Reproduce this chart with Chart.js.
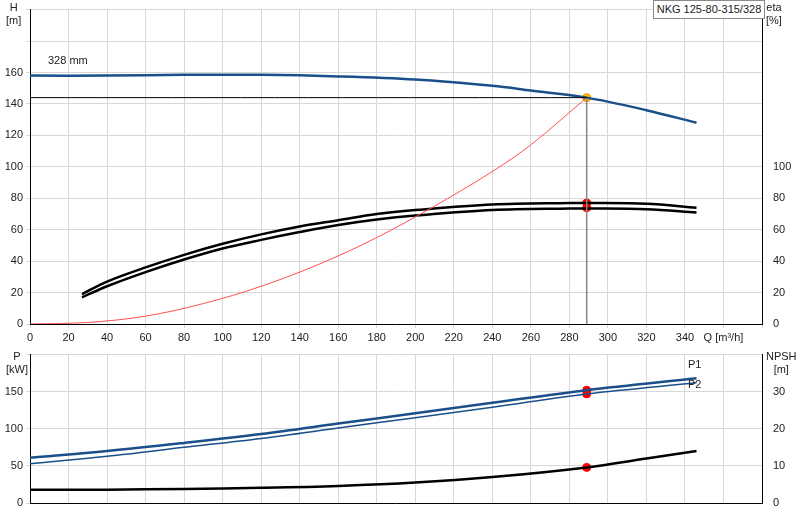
<!DOCTYPE html>
<html><head><meta charset="utf-8">
<script src="https://cdn.jsdelivr.net/npm/chart.js@4"></script>
<style>
body{margin:0;background:#fff;font-family:"Liberation Sans",Arial,sans-serif;}
#wrap{position:relative;width:800px;height:520px;}
canvas{position:absolute;left:0;}
.t{position:absolute;font-size:11px;color:#222;text-align:center;line-height:13px;}
</style></head><body>
<div id="wrap">
<canvas id="top" style="top:0" width="800" height="345"></canvas>
<canvas id="bot" style="top:345px" width="800" height="175"></canvas>
<div class="t" style="left:6px;top:1px">H<br>[m]</div>
<div class="t" style="left:766px;top:1px">eta<br>[%]</div>
<div class="t" style="left:6px;top:350px">P<br>[kW]</div>
<div class="t" style="left:766px;top:350px">NPSH<br>[m]</div>
<div class="t" style="left:48px;top:54px">328 mm</div>
<div class="t" style="left:688px;top:358px">P1</div>
<div class="t" style="left:688px;top:378px">P2</div>
<div class="t" style="left:653px;top:0px;width:110px;height:17px;line-height:17px;border:1px solid #888;background:#fff">NKG 125-80-315/328</div>
</div>
<script>
// pump curve data
const qH = [0, 40, 80, 120, 160, 200, 240, 260, 289, 320, 346];
const head = [158, 158, 158.5, 158.5, 157.5, 155.5, 151.5, 148.5, 144, 136, 128];
const qSys = [0, 30, 60, 90, 120, 150, 180, 210, 240, 260, 289];
const sysHead = [0, 1, 5, 13, 24, 38, 55, 75, 97, 114, 144];
const qEta = [27, 40, 60, 80, 100, 120, 140, 160, 180, 200, 240, 280, 289, 320, 346];
const eta1 = [19, 27, 36, 44, 51, 57, 62, 66, 70, 72.5, 76, 77, 77, 76.5, 74];
const eta2 = [17, 24, 33, 41, 48, 53.5, 58.5, 63, 66.5, 69, 72.5, 73.5, 73.5, 73, 71];
const qP = [0, 40, 80, 120, 160, 200, 240, 289, 346];
const p1 = [61, 70, 81, 93, 107, 121, 135, 152, 168];
const p2 = [53, 63, 75, 87, 101, 115, 129, 147, 162];
const qN = [0, 40, 80, 120, 160, 200, 240, 289, 320, 346];
const npsh = [3.6, 3.6, 3.8, 4.1, 4.6, 5.5, 7, 9.6, 12, 14];
const duty = { q: 289, h: 144, eta1: 77, eta2: 74, p1: 152, p2: 147, npsh: 9.6 };

const pts = (xs, ys) => xs.map((x, i) => ({ x: x, y: ys[i] }));
const grid = '#d8d8d8';
const font = { family: 'Liberation Sans', size: 11 };
const line = (data, color, w, axis) => ({ data: data, showLine: true, borderColor: color, borderWidth: w, pointRadius: 0, tension: 0.35, fill: false, yAxisID: axis || 'y' });
const dot = (data, color, axis) => ({ data: data, showLine: false, pointRadius: 4, pointBackgroundColor: color, pointBorderColor: color, yAxisID: axis || 'y' });

new Chart(document.getElementById('top'), {
  type: 'scatter',
  data: { datasets: [
    line([{ x: 0, y: duty.h }, { x: duty.q, y: duty.h }], '#000', 1),
    line([{ x: duty.q, y: duty.h }, { x: duty.q, y: 0 }], '#888', 1.5),
    line(pts(qSys, sysHead), '#ff5050', 1),
    line(pts(qH, head), '#1a4f8a', 2.5),
    line(pts(qEta, eta1), '#000', 2.5, 'y2'),
    line(pts(qEta, eta2), '#000', 2.5, 'y2'),
    dot([{ x: duty.q, y: duty.eta1 }, { x: duty.q, y: duty.eta2 }], '#ff0000', 'y2'),
    { data: [{ x: duty.q, y: duty.h }], showLine: false, pointRadius: 4, pointBackgroundColor: '#ffc000', pointBorderColor: '#e09000' }
  ] },
  options: {
    responsive: false, animation: false,
    layout: { padding: { top: -8, left: 0, right: 0 } },
    plugins: { legend: { display: false }, tooltip: { enabled: false } },
    scales: {
      x: { min: 0, max: 380, afterFit: s => { s.height = 21; },
        ticks: { stepSize: 20, autoSkip: false, color: '#222', font: font, maxRotation: 0, callback: v => v === 360 ? 'Q [m³/h]' : (v === 380 ? '' : v) },
        grid: { color: grid, tickLength: 4 }, border: { color: '#000' } },
      y: { min: 0, max: 200, afterFit: s => { s.width = 30; },
        ticks: { stepSize: 20, color: '#222', font: font, callback: v => v > 160 ? '' : v },
        grid: { color: grid, tickLength: 4 }, border: { color: '#000' } },
      y2: { position: 'right', min: 0, max: 200, afterFit: s => { s.width = 38; },
        ticks: { stepSize: 20, color: '#222', font: font, callback: v => v > 100 ? '' : v },
        grid: { display: false }, border: { color: '#000' } }
    }
  }
});

new Chart(document.getElementById('bot'), {
  type: 'scatter',
  data: { datasets: [
    line(pts(qP, p1), '#1a4f8a', 2.5),
    line(pts(qP, p2), '#1a4f8a', 1.5),
    line(pts(qN, npsh), '#000', 2.5, 'y2'),
    dot([{ x: duty.q, y: duty.p1 }, { x: duty.q, y: duty.p2 }], '#ff0000'),
    dot([{ x: duty.q, y: duty.npsh }], '#ff0000', 'y2')
  ] },
  options: {
    responsive: false, animation: false,
    layout: { padding: { top: -3 } },
    plugins: { legend: { display: false }, tooltip: { enabled: false } },
    scales: {
      x: { min: 0, max: 380, afterFit: s => { s.height = 17; },
        ticks: { stepSize: 20, autoSkip: false, display: false },
        grid: { color: grid, drawTicks: false }, border: { color: '#000' } },
      y: { min: 0, max: 200, afterFit: s => { s.width = 30; },
        ticks: { stepSize: 50, color: '#222', font: font, callback: v => v > 150 ? '' : v },
        grid: { color: grid, tickLength: 4 }, border: { color: '#000' } },
      y2: { position: 'right', min: 0, max: 40, afterFit: s => { s.width = 38; },
        ticks: { stepSize: 10, color: '#222', font: font, callback: v => v > 30 ? '' : v },
        grid: { display: false }, border: { color: '#000' } }
    }
  }
});
</script>
</body></html>
